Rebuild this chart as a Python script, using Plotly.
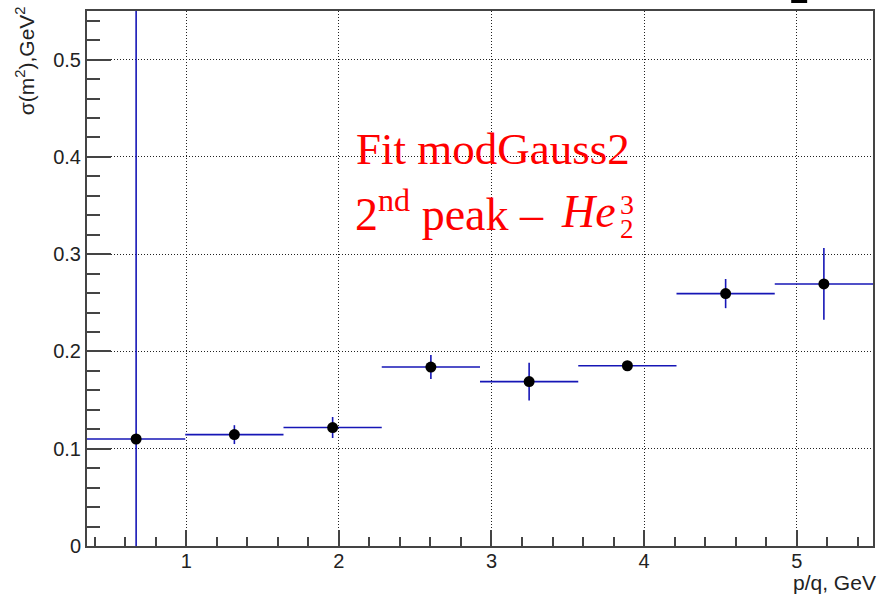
import plotly.graph_objects as go

# Momentum bins (p/q, GeV): 8 equal bins between 0.35 and 5.5
bin_lo = 0.35
bin_hi = 5.5
n_bins = 8
bin_half_width = (bin_hi - bin_lo) / n_bins / 2.0
p_centers = [bin_lo + (2 * i + 1) * bin_half_width for i in range(n_bins)]

# Fitted width of the second peak, sigma(m^2) in GeV^2, and its uncertainty
sigma_m2 = [0.110, 0.1145, 0.1218, 0.184, 0.169, 0.1853, 0.2595, 0.2694]
sigma_err = [0.50, 0.0097, 0.0108, 0.0123, 0.0193, 0.003, 0.0150, 0.0369]

x_ticks = [1, 2, 3, 4, 5]
x_tick_text = ["1", "2", "3", "4", "5"]
y_ticks = [0, 0.1, 0.2, 0.3, 0.4, 0.5]
y_tick_text = ["0", "0.1", "0.2", "0.3", "0.4", "0.5"]

W, H = 879, 596
L, R, T, B = 87, 4, 11, 50
PW, PH = W - L - R, H - T - B


def px_x(px):
    return (px - L) / PW


def px_y(py):
    return (H - B - py) / PH


err_blue = "rgb(22,22,182)"
frame = "#444444"
grid_dash = "1px,2px"

fig = go.Figure()
fig.add_trace(go.Scatter(
    x=p_centers,
    y=sigma_m2,
    mode="markers",
    marker=dict(color="black", size=11, symbol="circle"),
    error_x=dict(type="constant", value=bin_half_width, color=err_blue,
                 thickness=1.6, width=0),
    error_y=dict(type="data", array=sigma_err, color=err_blue,
                 thickness=1.6, width=0),
    showlegend=False,
    hoverinfo="x+y",
))

tick_font = dict(family="Liberation Sans, Arial, sans-serif", size=20, color="#222222")

fig.update_xaxes(
    range=[bin_lo, bin_hi],
    tickmode="array", tickvals=x_ticks, ticktext=x_tick_text,
    ticks="inside", ticklen=16, tickwidth=1.6, tickcolor=frame,
    ticklabelstandoff=-4,
    minor=dict(ticks="inside", ticklen=9, tickwidth=1.6, tickcolor=frame,
               dtick=0.2, tick0=0, showgrid=False),
    showgrid=True, gridcolor="#222222", gridwidth=1, griddash=grid_dash,
    showline=True, linecolor=frame, linewidth=2, mirror=True,
    zeroline=False, tickfont=tick_font,
)
fig.update_yaxes(
    range=[0, 0.55],
    tickmode="array", tickvals=y_ticks, ticktext=y_tick_text,
    ticks="inside", ticklen=24, tickwidth=1.6, tickcolor=frame,
    minor=dict(ticks="inside", ticklen=13, tickwidth=1.6, tickcolor=frame,
               dtick=0.02, tick0=0, showgrid=False),
    showgrid=True, gridcolor="#222222", gridwidth=1, griddash=grid_dash,
    showline=True, linecolor=frame, linewidth=2, mirror=True,
    zeroline=False, tickfont=tick_font,
)

title_font = dict(family="Liberation Sans, Arial, sans-serif", size=21, color="#222222")
red_serif = "Liberation Serif, Times New Roman, serif"

annotations = [
    # axis titles, ROOT style (right / top aligned)
    dict(text="p/q, GeV", x=px_x(880), y=px_y(582), xref="paper", yref="paper",
         xanchor="right", yanchor="middle", showarrow=False, font=title_font),
    dict(text="σ(m<sup>2</sup>),GeV<sup>2</sup>", x=px_x(25), y=px_y(61),
         xref="paper", yref="paper", xanchor="center", yanchor="middle",
         textangle=-90, showarrow=False, font=title_font),
    # fit label
    dict(text="Fit modGauss2", x=px_x(355), y=px_y(149), xref="paper", yref="paper",
         xanchor="left", yanchor="middle", showarrow=False,
         font=dict(family=red_serif, size=45, color="#ff0000")),
    dict(text="2<sup>nd</sup> peak –", x=px_x(354), y=px_y(211), xref="paper", yref="paper",
         xanchor="left", yanchor="middle", showarrow=False,
         font=dict(family=red_serif, size=46, color="#ff0000")),
    dict(text="<i>He</i>", x=px_x(560), y=px_y(212), xref="paper", yref="paper",
         xanchor="left", yanchor="middle", showarrow=False,
         font=dict(family=red_serif, size=46, color="#ff0000")),
    dict(text="3", x=px_x(628), y=px_y(204), xref="paper", yref="paper",
         xanchor="center", yanchor="middle", showarrow=False,
         font=dict(family=red_serif, size=28, color="#ff0000")),
    dict(text="2", x=px_x(628), y=px_y(229), xref="paper", yref="paper",
         xanchor="center", yanchor="middle", showarrow=False,
         font=dict(family=red_serif, size=27, color="#ff0000")),
]

fig.update_layout(
    width=W, height=H,
    margin=dict(l=L, r=R, t=T, b=B, pad=0),
    paper_bgcolor="white", plot_bgcolor="white",
    annotations=annotations,
    shapes=[dict(type="rect", xref="paper", yref="paper",
                 x0=px_x(793), x1=px_x(809), y0=px_y(3), y1=px_y(0),
                 fillcolor="black", line=dict(width=0))],
)

fig.write_html("out.html")
